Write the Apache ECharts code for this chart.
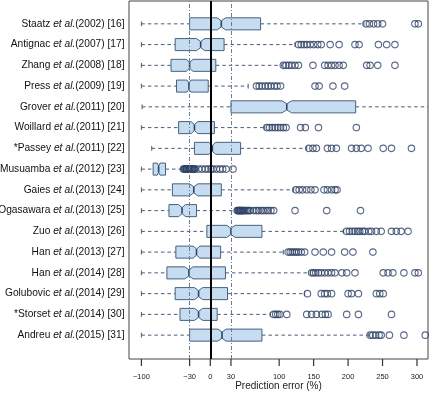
<!DOCTYPE html>
<html>
<head>
<meta charset="utf-8">
<script src="https://cdn.jsdelivr.net/npm/echarts@6/dist/echarts.min.js"></script>
<style>
html,body{margin:0;padding:0;background:#fff;}
#chart{width:429px;height:403px;}
</style>
</head>
<body>
<div id="chart"></div>
<script>
// ---- data ----
const authors = ['Staatz','Antignac','Zhang','Press','Grover','Woillard','*Passey','Musuamba','Gaies','Ogasawara','Zuo','Han','Han','Golubovic','*Storset','Andreu'];
const years   = ['2002','2007','2008','2009','2011','2011','2011','2012','2013','2013','2013','2013','2014','2014','2014','2015'];
const refs    = ['16','17','18','19','20','21','22','23','24','25','26','27','28','29','30','31'];

const whiskerLow  = [-100,-100,-100,-100,-99,-100,-85,-100,-100,-100,-100,-100,-100,-100,-100,-100];
const q1          = [-30,-51,-57,-49,30,-46,-23,-83,-55,-60,-5,-50,-63,-51,-44,-30];
const median      = [16,-14,-30,-31,111,-23,3,-75,-24,-41,30,-20,-31,-17,-17,17];
const q3          = [73,20,8,-3,211,6,44,-65,16,-20,75,15,22,25,10,75];
const whiskerHigh = [223,123,104,55,360,79,140,-39,121,39,193,106,145,137,87,230];
const notchHalf   = [6,6,5,3,7,5,5,2,6,5,6,5,6,6,6,6];

const outliers = [
  [226,231,237,243,250,297,302],
  [128,132,136,140,145,150,156,161,174,187,210,216,244,256,268],
  [106,110,114,118,123,128,149,166,171,176,181,187,193,227,232,243,268],
  [67,71,75,80,84,88,93,97,102,152,158,178,195],
  [],
  [82,86,90,94,98,102,106,110,131,138,157,212],
  [143,149,154,170,176,183,205,212,219,229,251,263,292],
  [-39,-38,-37,-36,-35,-34,-33,-32,-31,-30,-29,-28,-27,-26,-25,-24,-23,-22,-17,-12,-7,-3,1,4,9,14,18,23,33],
  [124,129,134,140,146,152,165,170,176,181,184],
  [39,40,41,42,43,44,45,46,47,48,50,52,54,56,58,63,67,70,74,77,81,84,88,92,123,169,218],
  [198,202,206,210,214,217,221,224,230,234,241,248,263,270,277,287],
  [113,116,119,122,125,128,132,137,152,164,176,195,207,236],
  [147,150,153,157,161,166,171,176,181,191,198,210,251,258,265,281,297,302],
  [141,161,166,170,176,200,205,215,241,246,251],
  [92,95,98,101,111,140,147,154,162,167,171,198,215,263],
  [232,236,240,245,248,260,281,312]
];

const tickValues = [-100,-30,0,30,100,150,200,250,300];
const refLines = [-30,0,30];
const xTitle = 'Prediction error (%)';

// ---- build ----
const X_MIN = -118, X_MAX = 316, Y_MAX = 17.25, ROW_BASE = 17.15;
const rowPos = authors.map((_, i) => ROW_BASE - (i + 1));
const boxData = rowPos.map((r, i) => [r, whiskerLow[i], q1[i], median[i], q3[i], whiskerHigh[i], notchHalf[i]]);
const outlierData = [];
outliers.forEach((arr, i) => arr.forEach(v => outlierData.push([v, rowPos[i]])));

const BOX_FILL = '#c6ddf1';
const BOX_LINE = '#46617f';
const WHISK = '#465a7a';
const PT = '#2f4466';

function renderItem(params, api) {
  const row = api.value(0);
  const lo = api.value(1), a = api.value(2), m = api.value(3), b = api.value(4), hi = api.value(5), nh = api.value(6);
  const unit = api.size([0, 1])[1];
  const hw = unit * 0.29;
  const P = v => api.coord([v, row]);
  const y = P(m)[1];
  const xl = P(lo)[0], xa = P(a)[0], xm = P(m)[0], xb = P(b)[0], xh = P(hi)[0];
  const xnl = P(m - nh)[0], xnr = P(m + nh)[0];
  const cap = hw * 0.4;
  const dashStyle = {stroke: WHISK, lineWidth: 1, lineDash: [3.5, 3], fill: null};
  const solid = {stroke: WHISK, lineWidth: 1, fill: null};
  return {
    type: 'group',
    children: [
      {type: 'line', shape: {x1: xl, y1: y, x2: xa, y2: y}, style: dashStyle},
      {type: 'line', shape: {x1: xb, y1: y, x2: xh, y2: y}, style: dashStyle},
      {type: 'line', shape: {x1: xl, y1: y - cap, x2: xl, y2: y + cap}, style: solid},
      {type: 'line', shape: {x1: xh, y1: y - cap, x2: xh, y2: y + cap}, style: solid},
      {type: 'polygon', shape: {points: [
        [xa, y - hw], [xnl, y - hw], [xm, y - hw / 2], [xnr, y - hw], [xb, y - hw],
        [xb, y + hw], [xnr, y + hw], [xm, y + hw / 2], [xnl, y + hw], [xa, y + hw]
      ]}, style: {fill: BOX_FILL, stroke: BOX_LINE, lineWidth: 1}},
      {type: 'line', shape: {x1: xm, y1: y - hw / 2, x2: xm, y2: y + hw / 2}, style: {stroke: '#2f4360', lineWidth: 1.6}}
    ]
  };
}

const FONT = 'Liberation Sans, Arial, Helvetica, sans-serif';
const chart = echarts.init(document.getElementById('chart'), null, {renderer: 'canvas'});
chart.setOption({
  animation: false,
  backgroundColor: '#fff',
  grid: {left: 129, right: 1, top: 1, bottom: 44, show: true, borderColor: '#444', borderWidth: 1,
    backgroundColor: 'transparent', containLabel: false, outerBoundsMode: 'none'},
  xAxis: {
    type: 'value', min: X_MIN, max: X_MAX, position: 'bottom',
    axisLine: {show: false, onZero: false},
    splitLine: {show: false},
    axisTick: {show: false},
    axisLabel: {
      customValues: tickValues, margin: 0, align: 'center', verticalAlign: 'top',
      // each label carries its own tick mark (a small filled bar) above the number
      formatter: v => '{t|}\n{v|' + (v < 0 ? '\u2212' + Math.abs(v) : String(v)) + '}',
      rich: {
        t: {width: 1.2, height: 7, lineHeight: 7, backgroundColor: '#333', align: 'center'},
        v: {fontSize: 7.5, lineHeight: 21, fontFamily: FONT, color: '#222', align: 'center'}
      }
    },
    name: xTitle, nameLocation: 'middle', nameGap: 22, nameMoveOverlap: false,
    nameTextStyle: {fontSize: 10, fontFamily: FONT, color: '#222'}
  },
  yAxis: {
    type: 'value', min: 0, max: Y_MAX,
    axisLine: {show: false, onZero: false}, axisTick: {show: false}, splitLine: {show: false},
    axisLabel: {
      customValues: rowPos, margin: 4.5,
      formatter: v => {
        const i = Math.round(ROW_BASE - v) - 1;
        if (i < 0 || i >= authors.length) return '';
        return '{n|' + authors[i] + ' }{i|et al.}{n|(' + years[i] + ') [' + refs[i] + ']}';
      },
      rich: {
        n: {fontSize: 10.2, fontFamily: FONT, color: '#111'},
        i: {fontSize: 10.2, fontFamily: FONT, fontStyle: 'italic', color: '#111'}
      }
    }
  },
  series: [
    {
      type: 'custom', renderItem: renderItem, data: boxData, clip: true, z: 2,
      encode: {x: [1, 2, 3, 4, 5], y: 0}
    },
    {
      type: 'scatter', data: outlierData, symbol: 'circle', symbolSize: 6.5, z: 3,
      itemStyle: {color: 'rgba(0,0,0,0)', borderColor: PT, borderWidth: 1.1}
    },
    {
      type: 'scatter', data: [], z: 5,
      markLine: {
        silent: true, symbol: 'none', label: {show: false},
        data: refLines.map(v => v === 0
          ? {xAxis: v, lineStyle: {color: '#000', width: 2, type: 'solid'}}
          : {xAxis: v, lineStyle: {color: '#6b7c98', width: 1, type: [4, 2, 1, 2]}})
      }
    }
  ]
});
</script>
</body>
</html>
